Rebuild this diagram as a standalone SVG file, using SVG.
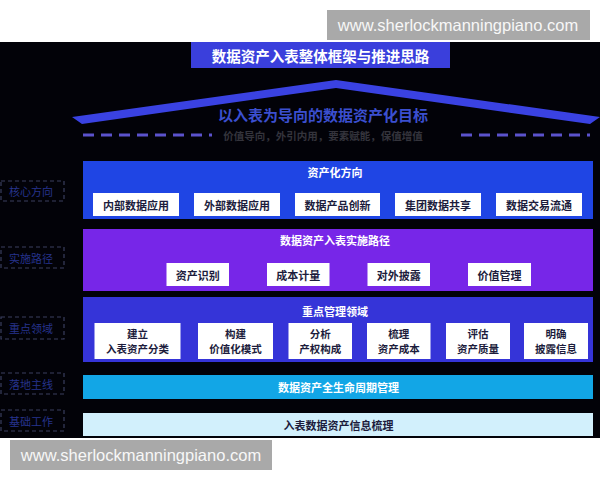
<svg xmlns="http://www.w3.org/2000/svg" width="600" height="480" viewBox="0 0 600 480">
<style>
text{font-family:"Noto Sans CJK SC","Liberation Sans",sans-serif;font-weight:bold;text-anchor:middle;dominant-baseline:central}
.wm{fill:#a9a9a9}
.wmt{font-family:"Liberation Sans",sans-serif;font-weight:normal;font-size:16.5px;fill:#f7f7f7}
.h{font-size:11px;fill:#ffffff}
.box{fill:#ffffff}
.bt{font-size:11px;fill:#1c1c3c}
.bt2{font-size:10.5px;fill:#1c1c3c}
.lab{fill:none;stroke:#3a3f5e;stroke-width:1.2;stroke-dasharray:4 3}
.lt{font-size:11px;fill:#26338c;font-weight:normal}
.dash{stroke:#5b52cc;stroke-width:3;stroke-dasharray:11 7}
</style>
<rect x="0" y="0" width="600" height="480" fill="#ffffff"/>
<rect x="0" y="42" width="600" height="396" fill="#020208"/>

<g id="watermark-top">
<rect class="wm" x="327" y="10" width="263" height="30"/>
<text class="wmt" x="458" y="25">www.sherlockmanningpiano.com</text>
</g>

<g id="title">
<rect x="191" y="42" width="259" height="26" fill="#3a3fdc"/>
<text x="320.5" y="55" font-size="14.5" fill="#ffffff">数据资产入表整体框架与推进思路</text>
</g>

<g id="roof">
<polygon points="72,117 336,80 600,117 590,124 336,88 82,124" fill="#3a42e2"/>
<text x="323" y="114" font-size="15" fill="#3b4fcf">以入表为导向的数据资产化目标</text>
<line class="dash" x1="83" y1="135" x2="212" y2="135"/>
<line class="dash" x1="461" y1="135" x2="590" y2="135"/>
<text x="323" y="135" font-size="10.5" fill="#34343c">价值导向，外引内用，要素赋能，保值增值</text>
</g>

<g id="labels">
<g id="label-core"><rect class="lab" x="1" y="181" width="63" height="20"/><text class="lt" x="31" y="191">核心方向</text></g>
<g id="label-path"><rect class="lab" x="1" y="247" width="63" height="21"/><text class="lt" x="31" y="257.5">实施路径</text></g>
<g id="label-focus"><rect class="lab" x="1" y="317" width="63" height="22"/><text class="lt" x="31" y="328">重点领域</text></g>
<g id="label-main"><rect class="lab" x="1" y="373" width="63" height="21"/><text class="lt" x="31" y="383.5">落地主线</text></g>
<g id="label-base"><rect class="lab" x="1" y="410" width="63" height="21"/><text class="lt" x="31" y="420.5">基础工作</text></g>
</g>

<g id="band-direction">
<rect x="83" y="161" width="510" height="58" fill="#1f45e4"/>
<text class="h" x="335" y="172">资产化方向</text>
<g id="d1"><rect class="box" x="93" y="193" width="86" height="23"/><text class="bt" x="136" y="204.5">内部数据应用</text></g>
<g id="d2"><rect class="box" x="194" y="193" width="86" height="23"/><text class="bt" x="237" y="204.5">外部数据应用</text></g>
<g id="d3"><rect class="box" x="295" y="193" width="85" height="23"/><text class="bt" x="337.5" y="204.5">数据产品创新</text></g>
<g id="d4"><rect class="box" x="395" y="193" width="86" height="23"/><text class="bt" x="438" y="204.5">集团数据共享</text></g>
<g id="d5"><rect class="box" x="496" y="193" width="86" height="23"/><text class="bt" x="539" y="204.5">数据交易流通</text></g>
</g>

<g id="band-path">
<rect x="83" y="229" width="510" height="62" fill="#7726e8"/>
<text class="h" x="335" y="240">数据资产入表实施路径</text>
<g id="p1"><rect class="box" x="166.5" y="263" width="62.5" height="23"/><text class="bt" x="197.8" y="274.5">资产识别</text></g>
<g id="p2"><rect class="box" x="267" y="263" width="62.5" height="23"/><text class="bt" x="298.3" y="274.5">成本计量</text></g>
<g id="p3"><rect class="box" x="367.5" y="263" width="62.5" height="23"/><text class="bt" x="398.8" y="274.5">对外披露</text></g>
<g id="p4"><rect class="box" x="468" y="263" width="63" height="23"/><text class="bt" x="499.5" y="274.5">价值管理</text></g>
</g>

<g id="band-focus">
<rect x="83" y="297" width="510" height="65" fill="#3534d8"/>
<text class="h" x="335" y="311">重点管理领域</text>
<g id="f1"><rect class="box" x="94.5" y="323" width="86" height="36"/><text class="bt2" x="137.5" y="333.5">建立</text><text class="bt2" x="137.5" y="348.5">入表资产分类</text></g>
<g id="f2"><rect class="box" x="198" y="323" width="75" height="36"/><text class="bt2" x="235.5" y="333.5">构建</text><text class="bt2" x="235.5" y="348.5">价值化模式</text></g>
<g id="f3"><rect class="box" x="288.5" y="323" width="63.5" height="36"/><text class="bt2" x="320.2" y="333.5">分析</text><text class="bt2" x="320.2" y="348.5">产权构成</text></g>
<g id="f4"><rect class="box" x="367" y="323" width="63.5" height="36"/><text class="bt2" x="398.7" y="333.5">梳理</text><text class="bt2" x="398.7" y="348.5">资产成本</text></g>
<g id="f5"><rect class="box" x="446" y="323" width="64" height="36"/><text class="bt2" x="478" y="333.5">评估</text><text class="bt2" x="478" y="348.5">资产质量</text></g>
<g id="f6"><rect class="box" x="524" y="323" width="64" height="36"/><text class="bt2" x="556" y="333.5">明确</text><text class="bt2" x="556" y="348.5">披露信息</text></g>
</g>

<g id="band-lifecycle">
<rect x="83" y="375" width="510" height="24" fill="#12a6e6"/>
<text class="h" x="338.5" y="387">数据资产全生命周期管理</text>
</g>

<g id="band-base">
<rect x="83" y="413" width="510" height="23" fill="#d2f0fc"/>
<text class="bt" x="338.5" y="424.5">入表数据资产信息梳理</text>
</g>

<g id="connectors"></g>

<g id="watermark-bottom">
<rect class="wm" x="10" y="440" width="262" height="30"/>
<text class="wmt" x="141" y="455">www.sherlockmanningpiano.com</text>
</g>
</svg>
